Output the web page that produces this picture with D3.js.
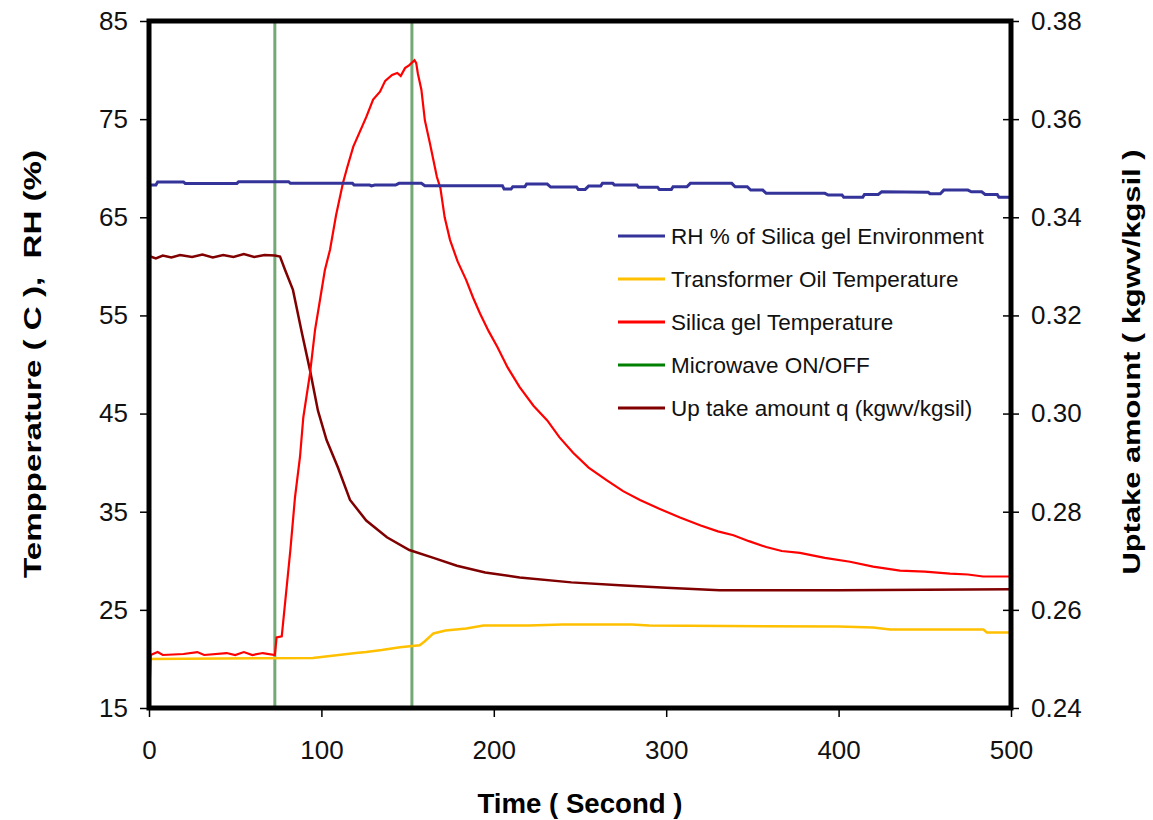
<!DOCTYPE html>
<html>
<head>
<meta charset="utf-8">
<script src="https://cdn.jsdelivr.net/npm/d3@7"></script>
<style>
  body { margin: 0; background: #fff; }
  text { font-family: "Liberation Sans", Arial, sans-serif; white-space: pre; }
</style>
</head>
<body>
<div id="chart"></div>
<script>
var width = 1153,
height = 820,
margin = {top: 21, right: 142, bottom: 112, left: 149};

// time (s), value
var rh = [[0, 15], [0.5, 68.3], [4, 68.3], [5, 68.6], [20, 68.6], [21, 68.45], [51, 68.45], [52, 68.62], [81, 68.62],
  [82, 68.46], [118, 68.46], [119, 68.28], [128, 68.28], [129, 68.2], [131, 68.28], [143, 68.28], [145, 68.46], [158, 68.46],
  [160, 68.21], [205, 68.21], [206, 67.87], [210, 67.87], [211, 68.11], [218, 68.11], [219, 68.38], [231, 68.38],
  [233, 68.08], [248, 68.08], [249, 67.84], [253, 67.84], [255, 68.18], [262, 68.18], [263, 68.46], [269, 68.46],
  [270, 68.28], [283, 68.28], [284, 68.05], [295, 68.05], [296, 67.84], [303, 67.84], [304, 68.11], [312, 68.11],
  [314, 68.46], [338, 68.46], [340, 68.11], [347, 68.11], [349, 67.77], [356, 67.77], [358, 67.44], [392, 67.44],
  [394, 67.26], [402, 67.26], [403, 67.03], [414, 67.03], [415, 67.33], [423, 67.33], [425, 67.6], [452, 67.55],
  [453, 67.4], [459, 67.4], [461, 67.77], [475, 67.77], [477, 67.6], [483, 67.6], [485, 67.33], [492, 67.33], [493, 67.03], [500, 67.03]];

var oilTemp = [[0, 20.0], [95, 20.1], [100, 20.2], [110, 20.4], [120, 20.6], [126, 20.7], [135, 20.9], [145.6, 21.2],
  [157, 21.4], [160, 21.8], [165, 22.6], [172, 22.9], [184, 23.1], [194, 23.4], [220, 23.4], [240, 23.5], [280, 23.5],
  [290, 23.4], [400, 23.3], [420, 23.2], [430, 23.0], [484, 23.0], [486, 22.7], [500, 22.7]];

var gelTemp = [[0, 15], [1, 20.4], [5, 20.7], [8, 20.4], [20, 20.5], [28, 20.7], [32, 20.4], [45, 20.6], [50, 20.4],
  [55, 20.7], [60, 20.4], [66, 20.6], [73, 20.4], [74, 22.2], [77, 22.3], [82, 31.1], [84.7, 36.5], [87.6, 40.6],
  [89.5, 44.6], [93.4, 49.1], [96.3, 53.5], [99.2, 56.6], [102, 59.6], [105, 61.7], [108.5, 65.2], [112.5, 68.5],
  [115, 70.1], [118.5, 72.2], [122, 73.6], [126, 75.2], [130, 77], [134, 77.8], [137, 78.9], [141, 79.5], [144, 79.7],
  [146, 79.4], [148.5, 80.2], [151, 80.5], [154, 81.0], [155, 80.7], [156, 79.6], [158, 78], [160, 74.9], [163, 72.5],
  [167, 69.1], [169, 68.0], [171.5, 65.0], [174.6, 62.7], [179, 60.5], [184, 58.6], [188, 56.8], [192, 55.2], [197, 53.4],
  [202, 51.8], [208, 49.7], [215, 47.7], [223, 45.8], [231, 44.3], [238, 42.6], [246, 41.0], [255, 39.5], [265.6, 38.2],
  [275, 37.1], [284.8, 36.2], [296, 35.3], [308, 34.4], [320, 33.6], [330, 33.0], [339, 32.6], [348, 32.0], [358, 31.4],
  [367, 31.0], [377.6, 30.8], [392, 30.3], [406.6, 29.9], [420, 29.4], [435.6, 29.0], [450, 28.9], [464.6, 28.7],
  [475, 28.6], [483.8, 28.4], [500, 28.4]];

var microwave = [73, 152.5];

var uptake = [[0, 0.3321], [4, 0.3316], [8, 0.3322], [13, 0.3318], [18, 0.3323], [25, 0.3319], [31, 0.3324],
  [37, 0.3318], [43, 0.3323], [49, 0.3319], [55, 0.3325], [61, 0.3319], [67, 0.3323], [73, 0.3322], [76, 0.332],
  [79, 0.3292], [83.5, 0.3252], [88.7, 0.3164], [93.4, 0.3088], [98, 0.3006], [103, 0.2946], [109.6, 0.289],
  [116.6, 0.2824], [126, 0.2782], [138, 0.2748], [151, 0.2722], [165, 0.2706], [178.6, 0.269], [195, 0.2676],
  [215, 0.2666], [245, 0.2656], [273, 0.265], [300, 0.2645], [331, 0.264], [400, 0.264], [450, 0.2641], [500, 0.2642]];

var xTicks = [0, 100, 200, 300, 400, 500],
leftTicks = [15, 25, 35, 45, 55, 65, 75, 85],
rightTicks = [0.24, 0.26, 0.28, 0.30, 0.32, 0.34, 0.36, 0.38];

var legend = ['RH % of Silica gel Environment', 'Transformer Oil Temperature', 'Silica gel Temperature',
  'Microwave ON/OFF', 'Up take amount q (kgwv/kgsil)'];
var colors = ['#333399', '#ffc000', '#ff0000', '#008000', '#800000'];

var w = width - margin.left - margin.right,
h = height - margin.top - margin.bottom;

const xScale = d3.scaleLinear().domain([0, 500]).range([0, w]);
const yScale = d3.scaleLinear().domain([15, 85]).range([h, 0]);
const y2Scale = d3.scaleLinear().domain([0.24, 0.38]).range([h, 0]);

const svg = d3.select('#chart').
append('svg').
attr('width', width).
attr('height', height);

const g = svg.append('g').
attr('transform', 'translate(' + margin.left + ',' + margin.top + ')');

const line = d3.line().x(d => xScale(d[0])).y(d => yScale(d[1]));
const line2 = d3.line().x(d => xScale(d[0])).y(d => y2Scale(d[1]));

// microwave on/off markers
g.selectAll('.mw').
data(microwave).
enter().
append('line').
attr('x1', d => xScale(d)).
attr('x2', d => xScale(d)).
attr('y1', 0).
attr('y2', h).
attr('stroke', '#74a874').
attr('stroke-width', 3);

g.append('path').datum(oilTemp).attr('d', line).
attr('fill', 'none').attr('stroke', colors[1]).attr('stroke-width', 2.5);

g.append('path').datum(uptake).attr('d', line2).
attr('fill', 'none').attr('stroke', colors[4]).attr('stroke-width', 2.5);

g.append('path').datum(gelTemp).attr('d', line).
attr('fill', 'none').attr('stroke', colors[2]).attr('stroke-width', 2.2);

g.append('path').datum(rh).attr('d', line).
attr('fill', 'none').attr('stroke', colors[0]).attr('stroke-width', 3);

// frame
g.append('rect').
attr('width', w).
attr('height', h).
attr('fill', 'none').
attr('stroke', 'black').
attr('stroke-width', 5);

const xAxis = d3.axisBottom(xScale).tickValues(xTicks).tickSize(9).tickPadding(24).tickFormat(d3.format('d'));
const yAxis = d3.axisLeft(yScale).tickValues(leftTicks).tickSize(9).tickPadding(12);
const y2Axis = d3.axisRight(y2Scale).tickValues(rightTicks).tickSize(8).tickPadding(12).tickFormat(d3.format('.2f'));

const gx = g.append('g').attr('transform', 'translate(0,' + h + ')').call(xAxis);
const gy = g.append('g').call(yAxis);
const gy2 = g.append('g').attr('transform', 'translate(' + w + ',0)').call(y2Axis);

[gx, gy, gy2].forEach(a => {
  a.select('.domain').remove();
  a.selectAll('.tick line').attr('stroke', 'black').attr('stroke-width', 1.5);
  a.selectAll('.tick text').attr('font-size', '26px').attr('fill', '#111').
  style('font-family', '"Liberation Sans", Arial, sans-serif');
});
gy2.selectAll('.tick line').attr('x1', -8);

// axis titles
svg.append('text').
attr('transform', 'translate(41,364) rotate(-90)').
attr('text-anchor', 'middle').
attr('font-size', '24px').
attr('font-weight', 'bold').
attr('textLength', 428).
attr('lengthAdjust', 'spacingAndGlyphs').
text('Tempperature ( C ),  RH (%)');

svg.append('text').
attr('transform', 'translate(1140,362) rotate(-90)').
attr('text-anchor', 'middle').
attr('font-size', '24px').
attr('font-weight', 'bold').
attr('textLength', 425).
attr('lengthAdjust', 'spacingAndGlyphs').
text('Uptake amount ( kgwv/kgsil )');

svg.append('text').
attr('x', 580).
attr('y', 813).
attr('text-anchor', 'middle').
attr('font-size', '27px').
attr('font-weight', 'bold').
attr('textLength', 205).
attr('lengthAdjust', 'spacingAndGlyphs').
text('Time ( Second )');

// legend
const lg = svg.append('g').attr('transform', 'translate(618,236)');
lg.selectAll('line').
data(legend).
enter().
append('line').
attr('x1', 0).
attr('x2', 47).
attr('y1', (d, i) => i * 43).
attr('y2', (d, i) => i * 43).
attr('stroke', (d, i) => colors[i]).
attr('stroke-width', 3);

lg.selectAll('text').
data(legend).
enter().
append('text').
attr('x', 53).
attr('y', (d, i) => i * 43 + 8).
attr('font-size', '22.5px').
attr('fill', '#111').
text(d => d);
</script>
</body>
</html>
